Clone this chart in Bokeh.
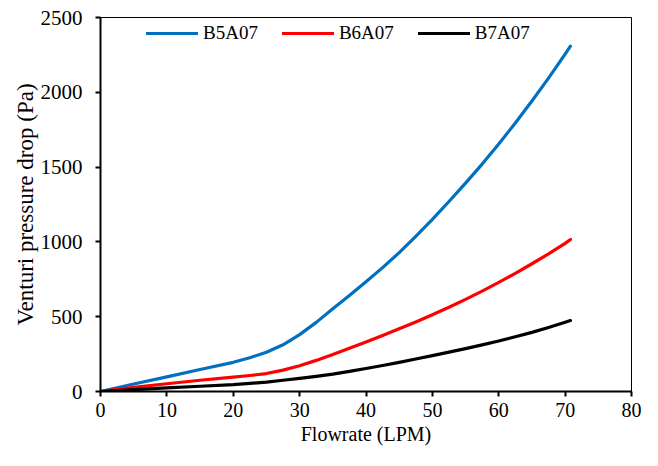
from bokeh.plotting import figure
from bokeh.models import Range1d, Legend, LegendItem, SingleIntervalTicker
from bokeh.embed import file_html
from bokeh.resources import INLINE

flow = [0, 5, 10, 15, 20, 22.5, 25, 27.5, 30, 32.5, 35, 37.5, 40, 42.5, 45, 47.5,
        50, 52.5, 55, 57.5, 60, 62.5, 65, 67.5, 70, 70.8]
b5a07 = [0, 50, 98, 147, 195, 226, 262, 312, 380, 462, 553, 642, 733, 828, 928, 1037,
         1150, 1270, 1393, 1520, 1655, 1795, 1942, 2095, 2255, 2308]
b6a07 = [0, 27, 52, 75, 96, 107, 120, 143, 172, 208, 248, 289, 331, 374, 419, 465,
         513, 563, 616, 671, 729, 790, 854, 920, 990, 1016]
b7a07 = [0, 13, 24, 35, 46, 54, 63, 75, 88, 101, 116, 134, 154, 174, 195, 217,
         240, 263, 287, 312, 338, 366, 395, 428, 463, 474]

names = ["B5A07", "B6A07", "B7A07"]
colors = ["#0070C0", "#FF0000", "#000000"]

FONT = "'Liberation Serif', 'Times New Roman', Times, serif"

p = figure(width=642, height=450, output_backend="svg", toolbar_location=None,
           x_range=Range1d(0, 80), y_range=Range1d(0, 2500),
           min_border_left=100, min_border_right=11, min_border_top=17, min_border_bottom=59)

p.xgrid.visible = False
p.ygrid.visible = False
p.outline_line_color = "black"
p.outline_line_width = 1
p.background_fill_color = "white"
p.border_fill_color = "white"

p.xaxis.ticker = SingleIntervalTicker(interval=10, num_minor_ticks=0)
p.yaxis.ticker = SingleIntervalTicker(interval=500, num_minor_ticks=0)
for ax in (p.xaxis, p.yaxis):
    ax.axis_line_width = 2
    ax.axis_line_color = "black"
    ax.major_tick_line_width = 2
    ax.major_tick_line_color = "black"
    ax.major_tick_out = 5
    ax.major_tick_in = 0
    ax.minor_tick_line_color = None
    ax.major_label_text_font = FONT
    ax.major_label_text_color = "black"
    ax.axis_label_text_font = FONT
    ax.axis_label_text_font_style = "normal"
    ax.axis_label_text_color = "black"

p.xaxis.axis_label = "Flowrate (LPM)"
p.yaxis.axis_label = "Venturi pressure drop (Pa)"
p.xaxis.major_label_text_font_size = "20px"
p.yaxis.major_label_text_font_size = "21px"
p.xaxis.axis_label_text_font_size = "20px"
p.yaxis.axis_label_text_font_size = "23px"
p.xaxis.major_label_standoff = 6
p.yaxis.major_label_standoff = 13
p.xaxis.axis_label_standoff = 3
p.yaxis.axis_label_standoff = 0

items = []
for name, ys, c in zip(names, [b5a07, b6a07, b7a07], colors):
    r = p.line(flow, ys, line_color=c, line_width=3.2, line_cap="round", line_join="round")
    items.append(LegendItem(label=name, renderers=[r]))

legend = Legend(items=items, orientation="horizontal", location=(46, 347),
                padding=0, margin=0, spacing=24, glyph_width=52, glyph_height=20,
                label_standoff=5, label_height=20,
                label_text_font=FONT, label_text_font_size="19px",
                label_text_color="black",
                background_fill_alpha=0, border_line_color=None)
p.add_layout(legend)

open("out.html", "w").write(file_html(p, INLINE))
